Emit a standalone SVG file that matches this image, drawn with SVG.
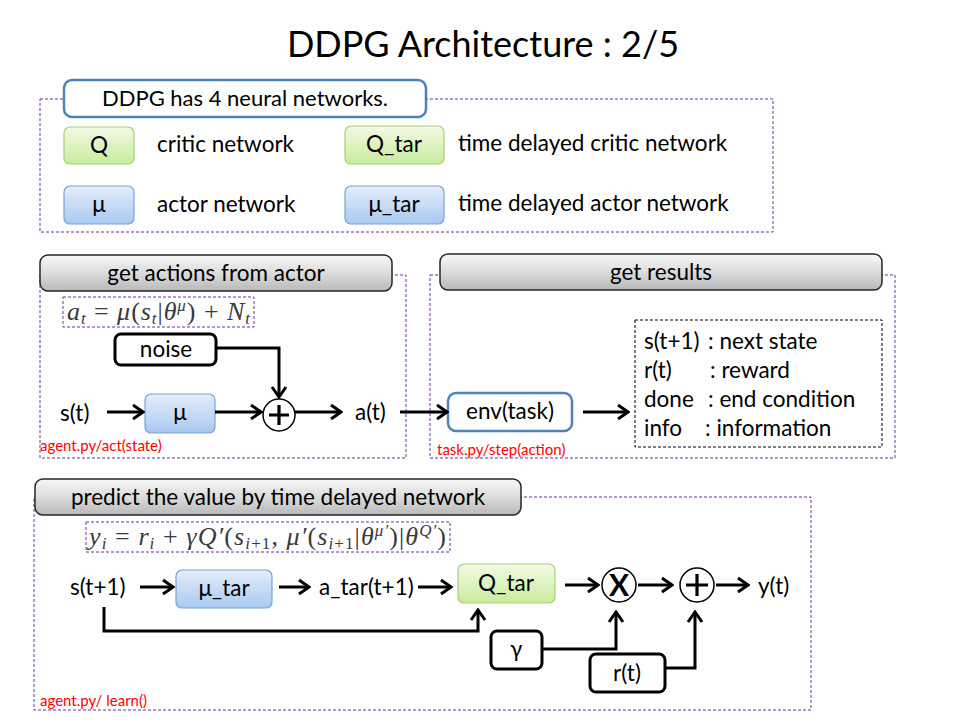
<svg xmlns="http://www.w3.org/2000/svg" width="965" height="725" viewBox="0 0 965 725">
<defs>
<linearGradient id="gGreen" x1="0" y1="0" x2="0" y2="1"><stop offset="0" stop-color="#f2fae6"/><stop offset="1" stop-color="#c9eb9c"/></linearGradient>
<linearGradient id="gBlue" x1="0" y1="0" x2="0" y2="1"><stop offset="0" stop-color="#e4eefb"/><stop offset="1" stop-color="#a9c8f0"/></linearGradient>
<linearGradient id="gGray" x1="0" y1="0" x2="0" y2="1"><stop offset="0" stop-color="#f7f7f7"/><stop offset="0.5" stop-color="#dcdcdc"/><stop offset="1" stop-color="#b8b8b8"/></linearGradient>
<marker id="arr" viewBox="0 0 14 18" refX="12" refY="9" markerWidth="14" markerHeight="18" markerUnits="userSpaceOnUse" orient="auto"><path d="M2,2 L12,9 L2,16" fill="none" stroke="#000" stroke-width="3"/></marker>
<style>
text{font-family:Lato,"Open Sans","Liberation Sans",sans-serif;fill:#000}
.t{font-size:22.5px}
.c{text-anchor:middle}
.red{font-size:15px;fill:#ff0000}
.sect{fill:none;stroke:#7030a0;stroke-width:1;stroke-dasharray:3,2}
.hdr{fill:url(#gGray);stroke:#262626;stroke-width:1.5}
.grn{fill:url(#gGreen);stroke:#a6cf78;stroke-width:1.2}
.blu{fill:url(#gBlue);stroke:#7aa2d8;stroke-width:1.2}
.wb{fill:#fff;stroke:#000;stroke-width:3}
.bb{fill:#fff;stroke:#4f81bd;stroke-width:2.5}
.ln{fill:none;stroke:#000;stroke-width:3}
.fm{font-family:"Liberation Serif","DejaVu Serif",serif;font-style:italic;font-size:26px;fill:#3a3a3a}
.up{font-style:normal}
</style>
</defs>

<text x="483" y="57" class="c" style="font-size:36px">DDPG Architecture : 2/5</text>

<!-- top section -->
<rect class="sect" x="40" y="99" width="733" height="133"/>
<g id="n_title4"><rect class="bb" x="64" y="80" width="362" height="37" rx="8"/><text x="245" y="106" class="c" style="font-size:22px">DDPG has 4 neural networks.</text></g>
<g id="n_Q"><rect class="grn" x="64" y="127" width="70" height="37" rx="6"/><text x="99" y="153" class="t c">Q</text></g>
<text x="157" y="152" class="t">critic network</text>
<g id="n_Qtar"><rect class="grn" x="345" y="126" width="99" height="38" rx="6"/><text x="394" y="152" class="t c">Q_tar</text></g>
<text x="458" y="151" class="t">time delayed critic network</text>
<g id="n_mu"><rect class="blu" x="64" y="186" width="70" height="38" rx="6"/><text x="99" y="212" class="t c">μ</text></g>
<text x="157" y="212" class="t">actor network</text>
<g id="n_mutar"><rect class="blu" x="345" y="186" width="99" height="38" rx="6"/><text x="394" y="212" class="t c">μ_tar</text></g>
<text x="458" y="211" class="t">time delayed actor network</text>

<!-- middle left -->
<rect class="sect" x="40" y="275" width="366" height="183"/>
<g id="h_actor"><rect class="hdr" x="40" y="255" width="352" height="36" rx="8"/><text x="216" y="281" class="t c">get actions from actor</text></g>
<g id="f_act"><rect class="sect" x="63" y="297" width="191" height="30"/>
<text x="67" y="320" class="fm" textLength="183" lengthAdjust="spacing">a<tspan dy="4" font-size="17">t</tspan><tspan dy="-4" class="up"> = </tspan>μ<tspan class="up">(</tspan>s<tspan dy="4" font-size="17">t</tspan><tspan dy="-4" class="up">|</tspan>θ<tspan dy="-9" font-size="17">μ</tspan><tspan dy="9" class="up">) + </tspan>N<tspan dy="4" font-size="17">t</tspan></text></g>
<g id="n_noise"><rect class="wb" x="115" y="334" width="101" height="31" rx="6"/><text x="166" y="357" class="t c">noise</text></g>
<text x="60" y="421" class="t">s(t)</text>
<g id="n_mu2"><rect class="blu" x="145" y="394" width="70" height="39" rx="6"/><text x="180" y="420" class="t c">μ</text></g>
<g id="n_plus1"><circle cx="279" cy="415" r="16" fill="#fff" stroke="#000" stroke-width="1.5"/><path d="M279,405 V425 M269,415 H289" stroke="#000" stroke-width="3.2"/></g>
<text x="355" y="420" class="t">a(t)</text>
<text x="40" y="451" class="red">agent.py/act(state)</text>

<!-- middle right -->
<rect class="sect" x="430" y="275" width="465" height="183"/>
<g id="h_results"><rect class="hdr" x="440" y="254" width="442" height="36" rx="8"/><text x="661" y="280" class="t c">get results</text></g>
<g id="n_env"><rect class="bb" x="448" y="393" width="124" height="38" rx="8"/><text x="510" y="419" class="t c">env(task)</text></g>
<g id="n_results"><rect x="635" y="320" width="247" height="127" fill="none" stroke="#000" stroke-width="1" stroke-dasharray="3,2"/>
<text x="644" y="349" class="t">s(t+1)</text><text x="708" y="349" class="t">: next state</text>
<text x="644" y="378" class="t">r(t)</text><text x="710" y="378" class="t">: reward</text>
<text x="644" y="407" class="t">done</text><text x="708" y="407" class="t">: end condition</text>
<text x="644" y="436" class="t">info</text><text x="705" y="436" class="t">: information</text></g>
<text x="437" y="455" class="red">task.py/step(action)</text>

<!-- bottom -->
<rect class="sect" x="34" y="497" width="777" height="213"/>
<g id="h_predict"><rect class="hdr" x="35" y="479" width="486" height="36" rx="8"/><text x="278" y="505" class="t c">predict the value by time delayed network</text></g>
<g id="f_y"><rect class="sect" x="86" y="522" width="364" height="30"/>
<text x="89" y="545" class="fm" textLength="357" lengthAdjust="spacing">y<tspan dy="4" font-size="17">i</tspan><tspan dy="-4" class="up"> = </tspan>r<tspan dy="4" font-size="17">i</tspan><tspan dy="-4" class="up"> + </tspan>γQ′<tspan class="up">(</tspan>s<tspan dy="4" font-size="17">i<tspan class="up">+1</tspan></tspan><tspan dy="-4" class="up">, </tspan>μ′<tspan class="up">(</tspan>s<tspan dy="4" font-size="17">i<tspan class="up">+1</tspan></tspan><tspan dy="-4" class="up">|</tspan>θ<tspan dy="-9" font-size="17">μ′</tspan><tspan dy="9" class="up">)|</tspan>θ<tspan dy="-9" font-size="17">Q′</tspan><tspan dy="9" class="up">)</tspan></text></g>
<text x="70" y="595" class="t">s(t+1)</text>
<g id="n_mutar2"><rect class="blu" x="176" y="570" width="96" height="38" rx="6"/><text x="224" y="596" class="t c">μ_tar</text></g>
<text x="319" y="595" class="t">a_tar(t+1)</text>
<g id="n_Qtar2"><rect class="grn" x="458" y="564" width="97" height="39" rx="6"/><text x="506" y="591" class="t c">Q_tar</text></g>
<g id="n_mul"><circle cx="619" cy="585" r="17" fill="#fff" stroke="#000" stroke-width="1.5"/><text x="619" y="596" class="c" style="font-size:30px;font-weight:bold">X</text></g>
<g id="n_plus2"><circle cx="697" cy="585" r="17" fill="#fff" stroke="#000" stroke-width="1.5"/><path d="M697,574 V596 M686,585 H708" stroke="#000" stroke-width="3.2"/></g>
<text x="758" y="594" class="t">y(t)</text>
<g id="n_gamma"><rect class="wb" x="491" y="631" width="51" height="38" rx="6"/><text x="516" y="657" class="t c">γ</text></g>
<g id="n_rt"><rect class="wb" x="590" y="654" width="75" height="38" rx="6"/><text x="627" y="681" class="t c">r(t)</text></g>
<text x="40" y="706" class="red">agent.py/ learn()</text>

<!-- connectors -->
<g id="connectors" class="ln" marker-end="url(#arr)">
<path d="M216,348 H279 V397"/>
<path d="M107,412 H143"/>
<path d="M215,412 H261"/>
<path d="M295,412 H341"/>
<path d="M400,412 H447"/>
<path d="M583,412 H628"/>
<path d="M140,587 H173"/>
<path d="M279,587 H309"/>
<path d="M418,587 H451"/>
<path d="M565,585 H598"/>
<path d="M638,585 H672"/>
<path d="M716,585 H748"/>
<path d="M104,607 V631 H478 V610"/>
<path d="M542,649 H616 V612"/>
<path d="M665,668 H695 V612"/>
</g>
</svg>
